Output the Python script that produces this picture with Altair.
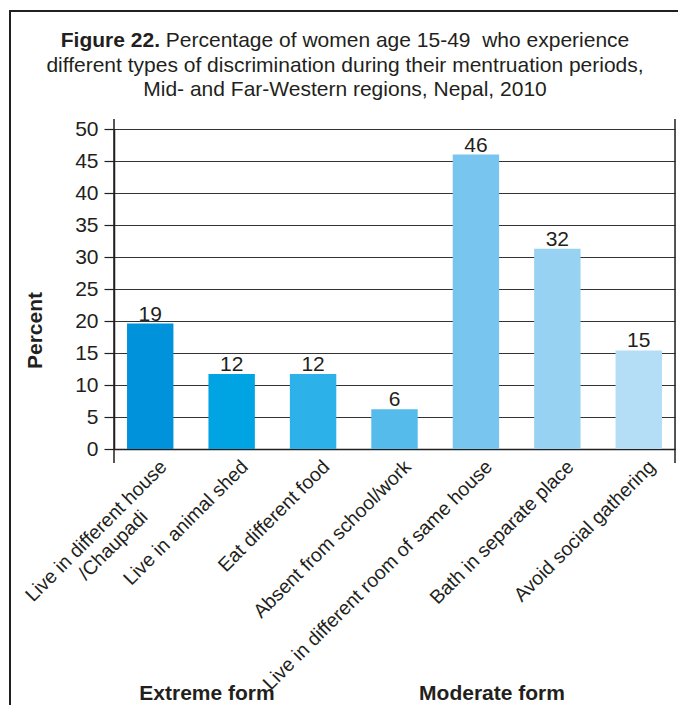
import altair as alt
import pandas as pd

# ---- data ----
categories = [
    "Live in different house\n/Chaupadi",
    "Live in animal shed",
    "Eat different food",
    "Absent from school/work",
    "Live in different room of same house",
    "Bath in separate place",
    "Avoid social gathering",
]
values = [19.6, 11.7, 11.7, 6.2, 46.0, 31.3, 15.4]
value_labels = ["19", "12", "12", "6", "46", "32", "15"]
bar_colors = ["#0092db", "#00a4e2", "#2db1e9", "#55bbeb", "#78c5ef", "#98d2f3", "#b4def5"]
y_ticks = [0, 5, 10, 15, 20, 25, 30, 35, 40, 45, 50]

title_bold = "Figure 22."
title_line1 = "Percentage of women age 15-49  who experience"
title_line2 = "different types of discrimination during their mentruation periods,"
title_line3 = "Mid- and Far-Western regions, Nepal, 2010"
y_title = "Percent"
group_labels = ["Extreme form", "Moderate form"]

INK = "#231f20"
FONT = "Liberation Sans"
W, H = 561, 320

df = pd.DataFrame({"category": categories, "value": values, "label": value_labels})
one = pd.DataFrame({"k": [0]})

nb = "\u00a0"
label_expr = (
    "indexof(datum.label, '\\n') >= 0 ? "
    "[split(datum.label, '\\n')[0], split(datum.label, '\\n')[1] + '" + nb * 9 + "\u200b'] : datum.label"
)

x_enc = alt.X(
    "category:N",
    sort=categories,
    scale=alt.Scale(paddingInner=0.43, paddingOuter=0.16),
    axis=alt.Axis(
        title=None,
        labelAngle=315,
        labelAlign="right",
        labelBaseline="top",
        labelPadding=8,
        labelOffset=7,
        ticks=False,
        domainColor=INK,
        domainWidth=1.5,
        labelFontSize=19.5,
        labelColor=INK,
        labelLimit=500,
        labelExpr=label_expr,
        labelLineHeight=22,
    ),
)
y_enc = alt.Y(
    "value:Q",
    scale=alt.Scale(domain=[0, 50], nice=False),
    axis=alt.Axis(
        values=y_ticks,
        tickCount=11,
        labelOverlap=False,
        title=y_title,
        titleFontSize=21,
        titleFontWeight="bold",
        titleColor=INK,
        titleAngle=270,
        titleX=-79,
        titleY=201,
        titleAlign="center",
        titleBaseline="middle",
        tickSize=10,
        tickColor=INK,
        tickWidth=1.2,
        domainColor=INK,
        domainWidth=1.5,
        labelFontSize=21,
        labelColor=INK,
        labelPadding=6,
        gridColor="#333333",
        gridWidth=1.2,
    ),
)

base = alt.Chart(df)
bars = base.mark_bar().encode(
    x=x_enc,
    y=y_enc,
    color=alt.Color("category:N", sort=categories,
                    scale=alt.Scale(domain=categories, range=bar_colors), legend=None),
)
nums = base.mark_text(dy=-3, baseline="alphabetic", fontSize=21, color=INK, font=FONT).encode(
    x=x_enc,
    y=y_enc,
    text="label:N",
)

side_lines = alt.Chart(one).mark_rule(color=INK, strokeWidth=1.5).encode(
    x=alt.value(0), y=alt.value(-10), y2=alt.value(334)
) + alt.Chart(one).mark_rule(color=INK, strokeWidth=1.5).encode(
    x=alt.value(W), y=alt.value(-10), y2=alt.value(334)
)

border = alt.Chart(one).mark_rect(fill="transparent", stroke=INK, strokeWidth=2).encode(
    x=alt.value(-104), y=alt.value(-118), x2=alt.value(700), y2=alt.value(700)
)

def txt(s, xv, yv, align, weight="normal", size=21):
    return alt.Chart(one).mark_text(
        text=s, align=align, baseline="alphabetic", fontSize=size, fontWeight=weight,
        color=INK, font=FONT
    ).encode(x=alt.value(xv), y=alt.value(yv))

title = (
    txt(title_bold, 46, -82, "right", "bold")
    + txt(title_line1.replace("  ", " " + nb), 51.8, -82, "left")
    + txt(title_line2, 231, -57, "center")
    + txt(title_line3, 231, -33, "center")
)

groups = (
    txt(group_labels[0], 93, 571, "center", "bold", 21)
    + txt(group_labels[1], 378, 571, "center", "bold", 21)
)

chart = alt.layer(bars, nums, side_lines, border, title, groups).properties(
    width=W,
    height=H,
    autosize=alt.AutoSizeParams(type="none"),
    padding={"left": 106, "top": 121, "right": 3, "bottom": 256},
).configure_view(strokeWidth=0).configure(font=FONT)

chart.save("out.html", embed_options={"renderer": "svg", "actions": False})
